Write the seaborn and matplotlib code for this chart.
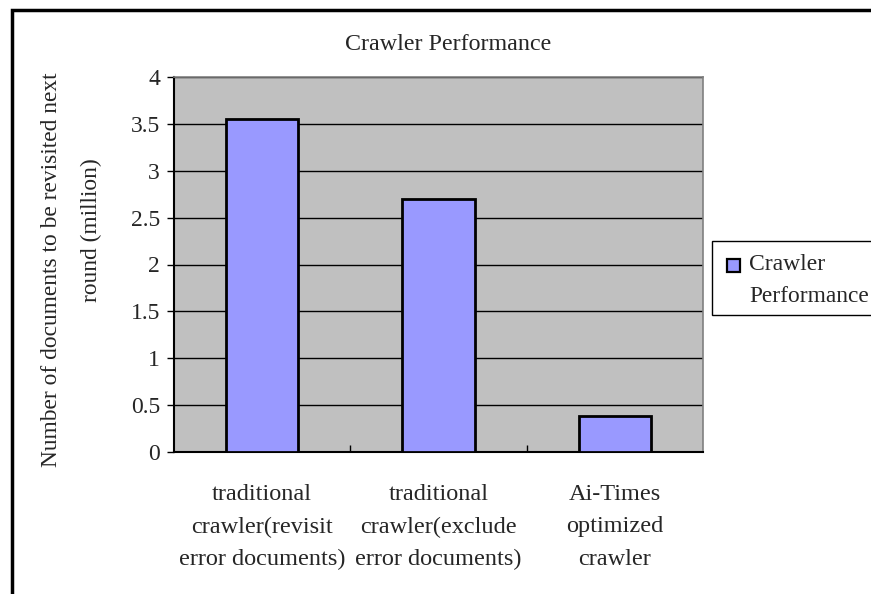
import matplotlib
matplotlib.use("Agg")
import matplotlib.pyplot as plt
from matplotlib.patches import Rectangle
from matplotlib.ticker import FixedLocator
import seaborn as sns
import pandas as pd

# Chart data
categories = [
    "traditional\ncrawler(revisit\nerror documents)",
    "traditional\ncrawler(exclude\nerror documents)",
    "Ai-Times\noptimized\ncrawler",
]
values = [3.55, 2.70, 0.38]
y_ticks = [0, 0.5, 1, 1.5, 2, 2.5, 3, 3.5, 4]
y_tick_labels = ["0", "0.5", "1", "1.5", "2", "2.5", "3", "3.5", "4"]
series_name = "Crawler Performance"
y_label_lines = ["Number of documents to be revisited next", "round (million)"]

BAR_COLOR = "#9999FF"
W, H = 871, 594

sns.set_theme(style="white")
plt.rcParams["font.family"] = ["Liberation Serif", "DejaVu Serif"]

fig = plt.figure(figsize=(W / 100, H / 100), dpi=100)
fig.patch.set_facecolor("white")


def fx(px):
    return px / W


def fy(py):
    return 1 - py / H


# outer chart-area frame (runs off the right and bottom edges)
fig.add_artist(Rectangle((fx(12), -0.05), 1.2, fy(10) + 0.05,
                         transform=fig.transFigure, fill=False,
                         edgecolor="black", linewidth=2.5, zorder=0))

ax = fig.add_axes([fx(174), fy(452), fx(703) - fx(174), fy(77) - fy(452)])
ax.set_facecolor("#C0C0C0")

df = pd.DataFrame({"category": categories, "value": values})
sns.barplot(data=df, x="category", y="value", color=BAR_COLOR, width=0.41,
            edgecolor="black", linewidth=2, saturation=1, ax=ax, zorder=3)

ax.set_ylim(0, 4)
ax.set_xlim(-0.5, 2.5)
ax.set_yticks(y_ticks)
ax.set_yticklabels(y_tick_labels, fontsize=17)
ax.yaxis.grid(True, color="black", linewidth=1)
ax.set_axisbelow(True)
ax.tick_params(axis="y", which="major", direction="out", length=5,
               width=1, color="black", left=True, pad=5)
ax.tick_params(axis="x", which="major", length=0, labelsize=17.5, pad=23)
ax.xaxis.set_minor_locator(FixedLocator([0.5, 1.5]))
ax.tick_params(axis="x", which="minor", direction="in", length=5,
               width=1, color="black", bottom=True)
for lbl in ax.get_xticklabels():
    lbl.set_linespacing(1.72)

for side in ("top", "right"):
    ax.spines[side].set_color("#808080")
    ax.spines[side].set_linewidth(1.2)
for side in ("left", "bottom"):
    ax.spines[side].set_color("black")
    ax.spines[side].set_linewidth(1.5)

ax.set_xlabel("")
ax.set_ylabel("")

# title
fig.text(fx(448), fy(45), series_name, fontsize=17.3,
         ha="center", va="center")

# y-axis title, one rotated line at a time
fig.text(fx(52), fy(270), y_label_lines[0], fontsize=16.8, rotation=90,
         ha="center", va="center")
fig.text(fx(91), fy(230), y_label_lines[1], fontsize=16.8, rotation=90,
         ha="center", va="center")

# legend box (runs off the right edge)
fig.add_artist(Rectangle((fx(712), fy(315)), fx(200), fy(241) - fy(315),
                         transform=fig.transFigure, facecolor="white",
                         edgecolor="black", linewidth=1, zorder=1))
fig.add_artist(Rectangle((fx(727), fy(272)), fx(13), fy(259) - fy(272),
                         transform=fig.transFigure, facecolor=BAR_COLOR,
                         edgecolor="black", linewidth=1.6, zorder=2))
fig.text(fx(749), fy(265), "Crawler", fontsize=17, ha="left",
         va="center", zorder=3)
fig.text(fx(749), fy(297), "Performance", fontsize=16.8, ha="left",
         va="center", zorder=3)

fig.savefig("out.png", dpi=100, facecolor="white")
